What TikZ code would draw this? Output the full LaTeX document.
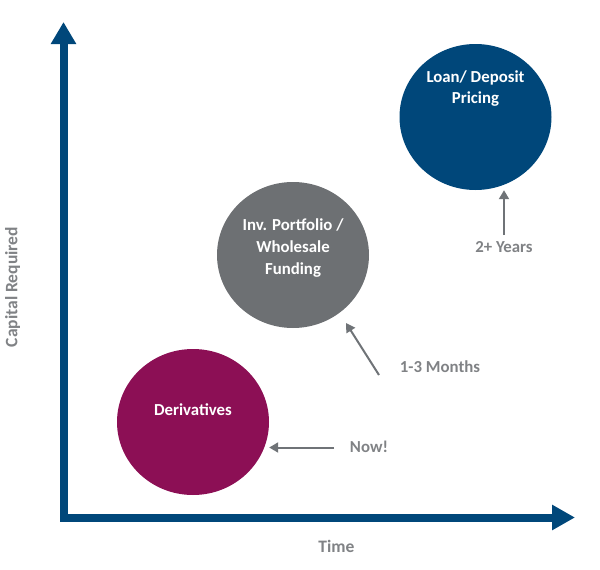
\documentclass[tikz,border=0pt]{standalone}
\usepackage{fontspec}
\setmainfont{Carlito}
\usetikzlibrary{arrows.meta,shapes.geometric,positioning}
\definecolor{axisblue}{HTML}{00477A}
\definecolor{derivred}{HTML}{8C0F55}
\definecolor{fundgray}{HTML}{6D7073}
\definecolor{labelgray}{HTML}{808285}
\definecolor{arrowgray}{HTML}{6F7377}

\begin{document}
\begin{tikzpicture}[x=1pt,y=-1pt,
        bubble/.style={ellipse,minimum width=152pt,minimum height=146pt,inner sep=0pt},
        bubtext/.style={text=white,font=\bfseries\fontsize{16.8}{21.8}\selectfont,align=center,inner sep=0pt},
        tagtext/.style={text=labelgray,font=\bfseries\fontsize{16.8}{20}\selectfont,inner sep=0pt},
        axtext/.style={tagtext,font=\bfseries\fontsize{17.5}{20}\selectfont},
        gline/.style={draw=arrowgray,line width=2pt,-{Triangle[length=9pt,width=10pt]}}]
        \useasboundingbox (0,0) rectangle (600,570);
        % axes
        \coordinate (ytop) at (63.5,22);
        \coordinate (origin) at (63.5,517.5);
        \coordinate (xend) at (575,517.5);
        \draw[axisblue,line width=8pt,line join=miter,{Triangle[length=22pt,width=24pt]}-{Triangle[length=23pt,width=24pt]}] (ytop) -- (origin) -- (xend);
        \node[axtext,rotate=90] (capital) at (12.5,287) {Capital Required};
        \node[axtext] (time) at (336.5,546) {Time};

        % bubbles
        \node[bubble,fill=derivred] (deriv) at (193,422) {};
        \node[bubble,fill=fundgray] (fund) at (293,255) {};
        \node[bubble,fill=axisblue] (loan) at (475.5,117) {};
        \node[bubtext] (derivtext) at (193,410) {Derivatives};
        \node[bubtext] (fundtext) at (293,248) {Inv. Portfolio /\\Wholesale\\Funding};
        \node[bubtext] (loantext) at (475.5,88.5) {Loan/ Deposit\\Pricing};

        % time steps
        \node[tagtext] (now) at (369,447) {Now!};
        \node[tagtext] (months) at (440,367) {1-3 Months};
        \node[tagtext] (years) at (504,247) {2+ Years};
        \coordinate (nowtail) at (334,447.5);
        \coordinate (monthstail) at (379,375);
        \coordinate (monthstip) at (346,323);
        \coordinate (yearstail) at (504,235);
        \draw[gline] (nowtail) -- (nowtail -| deriv.east);
        \draw[gline] (monthstail) -- (monthstip);
        \draw[gline] (yearstail) -- (yearstail |- loan.south);
\end{tikzpicture}
\end{document}
